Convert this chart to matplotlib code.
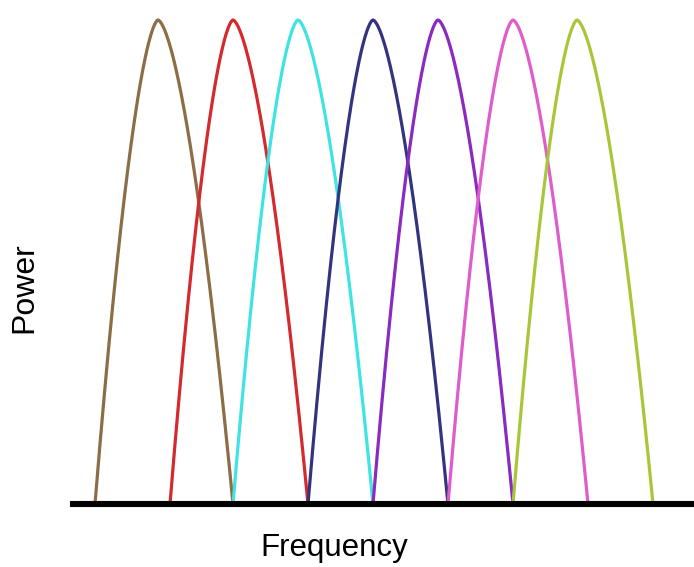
import numpy as np
import matplotlib
matplotlib.use('Agg')
import matplotlib.pyplot as plt

# channel edges and peaks (frequency, arbitrary units)
starts = [22, 97, 160, 235, 300, 375, 440]
peaks = [85, 160, 225, 300, 365, 440, 504]
ends = [160, 235, 300, 375, 440, 515, 580]
colors = ['#8c6d46', '#d42a2e', '#3fe3e3', '#34347e', '#8a2ac0', '#e05ccc', '#a9c63a']

plt.rcParams['font.family'] = ['Liberation Sans', 'DejaVu Sans']

fig = plt.figure(figsize=(6.94, 5.67), dpi=100)
ax = fig.add_axes([73/694, 63/567, 621/694, 484/567])

for s, p, e, c in zip(starts, peaks, ends, colors):
    # skewed arch: rising side s->p, falling side p->e
    xl = np.linspace(s, p, 100)
    xr = np.linspace(p, e, 100)
    yl = 1 - ((p-xl)/(p-s))**1.6
    yr = 1 - ((xr-p)/(e-p))**1.6
    ax.plot(np.r_[xl, xr], np.r_[yl, yr], color=c, lw=2.3, clip_on=False,
            solid_capstyle='butt')

ax.set_xlim(0, 621)
ax.set_ylim(0, 1)
for sp in ['top', 'right', 'left']:
    ax.spines[sp].set_visible(False)
ax.spines['bottom'].set_linewidth(4.4)
ax.spines['bottom'].set_zorder(5)
ax.set_xticks([])
ax.set_yticks([])

fig.text(334/694, 1-548/567, 'Frequency', fontsize=22.5, ha='center', va='center')
fig.text(24/694, 1-288/567, 'Power', fontsize=23, rotation=90, ha='center', va='center')

fig.savefig('out.png', dpi=100)
